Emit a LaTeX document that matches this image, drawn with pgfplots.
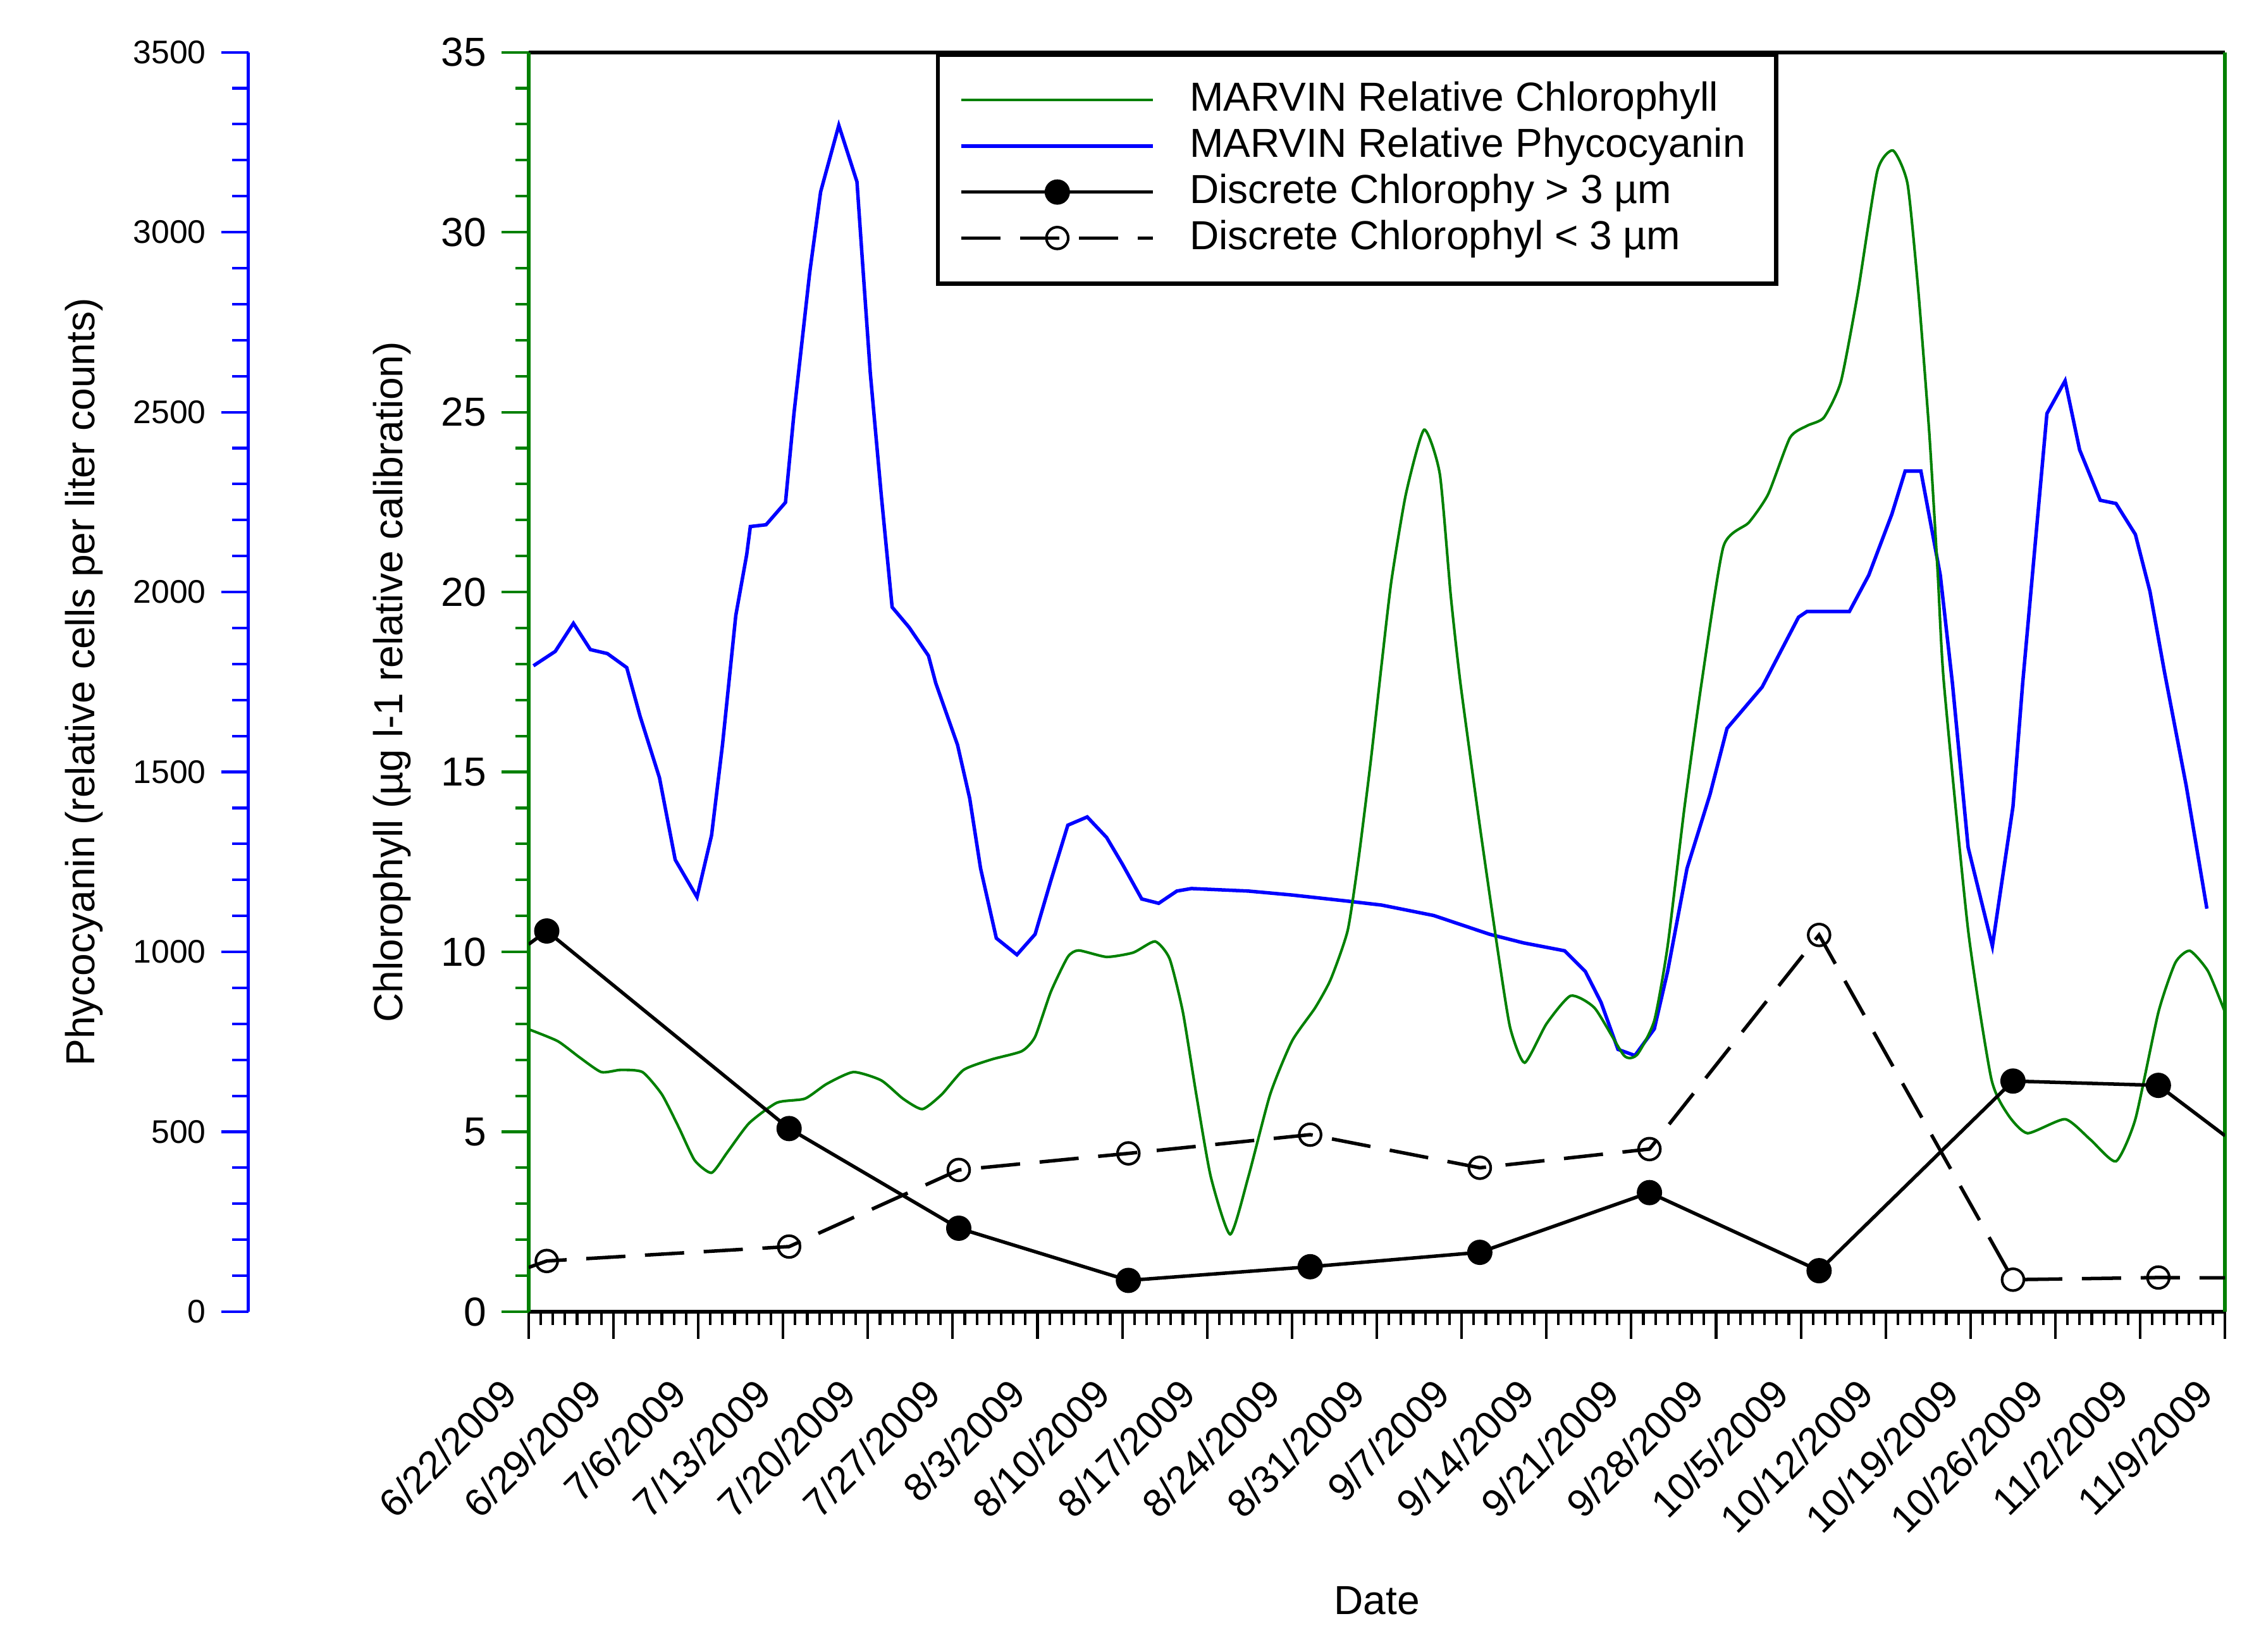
\documentclass[border=0pt]{standalone}
\usepackage{fontspec}
\setmainfont{Liberation Sans}
\usepackage{pgfplots}
\pgfplotsset{compat=1.18}
\definecolor{mgreen}{RGB}{0,128,0}
\definecolor{mblue}{RGB}{0,0,255}
\begin{document}
\begin{tikzpicture}
\useasboundingbox (-121.3pt,-78pt) rectangle (398.7pt,301pt);
% ---------------- Phycocyanin axis (left, blue) ----------------
\begin{axis}[
  scale only axis, width=453.6pt, height=289pt, at={(-64.3pt,0pt)}, anchor=south west,
  xmin=-23.124, xmax=140, ymin=0, ymax=3500,
  axis x line=none, axis y line*=left,
  y axis line style={mblue, line width=0.8pt},
  ytick={0,500,...,3500}, minor y tick num=4,
  tick align=outside, major tick length=6.2pt, minor tick length=3.7pt,
  ytick style={mblue, line width=0.6pt},
  /pgf/number format/assume math mode=true,
  /pgf/number format/1000 sep={},
  yticklabel style={font=\fontsize{7.5}{9}\selectfont, text=black},
  ylabel={Phycocyanin (relative cells per liter counts)},
  every axis y label/.style={at={(axis description cs:0,0.5)}, xshift=-37.7pt, rotate=90, anchor=center, font=\fontsize{9.3}{11}\selectfont},
]
\addplot[mblue, line width=0.8pt] coordinates {
(0.4,1795) (2.2,1835) (3.7,1913) (5.1,1840) (6.5,1829) (8.1,1790) (9.2,1655)
(10.8,1484) (12.1,1256) (13.9,1152) (15.1,1324) (16.0,1575) (17.1,1935) (18.0,2104)
(18.3,2182) (19.6,2187) (21.2,2249) (21.9,2496) (23.2,2888) (24.1,3112) (25.6,3297)
(27.1,3140) (27.5,2944) (28.2,2608) (29.1,2271) (30.0,1958) (31.4,1902) (33.0,1823)
(33.6,1747) (35.4,1575) (36.4,1427) (37.3,1232) (38.6,1038) (40.3,992) (41.8,1049)
(43.1,1198) (44.5,1352) (46.1,1375) (47.7,1318) (49.0,1244) (50.6,1147) (52.0,1135)
(53.5,1169) (54.7,1176) (59.4,1169) (63.0,1158) (67.6,1141) (70.4,1130) (74.7,1101)
(79.3,1049) (82.1,1025) (85.5,1003) (87.2,946) (88.5,860) (89.9,729) (91.3,712)
(92.9,786) (94.0,946) (95.6,1232) (97.5,1438) (98.9,1621) (101.8,1736) (104.8,1930)
(105.5,1946) (109.0,1946) (110.6,2047) (112.5,2216) (113.6,2336) (114.9,2336)
(116.5,2047) (117.5,1747) (118.8,1290) (120.8,1016) (122.5,1404) (123.3,1747)
(125.3,2496) (126.8,2587) (128.0,2395) (129.7,2255) (131.0,2246) (132.6,2160)
(133.8,2002) (135.0,1778) (136.8,1461) (138.5,1120)
};
\end{axis}
% ---------------- Chlorophyll axis (main) ----------------
\begin{axis}[
  scale only axis, width=389.3pt, height=289pt, at={(0pt,0pt)}, anchor=south west,
  xmin=0, xmax=140, ymin=0, ymax=35,
  separate axis lines,
  x axis line style={black, line width=0.9pt},
  y axis line style={mgreen, line width=0.8pt},
  xtick={0,7,...,140}, minor x tick num=6,
  ytick={0,5,...,35}, minor y tick num=4,
  xtick pos=left, ytick pos=left,
  tick align=outside, major tick length=6.2pt, minor tick length=3pt,
  xtick style={black, line width=0.6pt},
  ytick style={mgreen, line width=0.6pt},
  /pgf/number format/assume math mode=true,
  xticklabels={6/22/2009,6/29/2009,7/6/2009,7/13/2009,7/20/2009,7/27/2009,8/3/2009,8/10/2009,8/17/2009,8/24/2009,8/31/2009,9/7/2009,9/14/2009,9/21/2009,9/28/2009,10/5/2009,10/12/2009,10/19/2009,10/26/2009,11/2/2009,11/9/2009},
  xticklabel style={xshift=-2pt, yshift=-8.5pt, rotate=45, anchor=east, font=\fontsize{9}{10}\selectfont},
  yticklabel style={font=\fontsize{9.3}{11}\selectfont},
  xlabel={Date},
  every axis x label/.style={at={(axis description cs:0.5,0)}, yshift=-66.3pt, anchor=center, font=\fontsize{9.3}{11}\selectfont},
  ylabel={Chlorophyll (µg l-1 relative calibration)},
  every axis y label/.style={at={(axis description cs:0,0.5)}, xshift=-31.3pt, rotate=90, anchor=center, font=\fontsize{9.3}{11}\selectfont},
  legend image code/.code={\draw[#1, mark indices={2}] plot coordinates {(0pt,0pt) (22pt,0pt) (44pt,0pt)};},
  legend cell align=left,
  legend style={at={(0.2400,1)}, anchor=north west, draw=black, line width=1pt, fill=white,
    inner xsep=5pt, inner ysep=5.2pt, column sep=6pt,
    font=\fontsize{9.3}{11}\selectfont,
    nodes={inner ysep=0.5pt, inner xsep=2pt, text height=7.35pt, text depth=2.2pt}},
]
\addplot[mgreen, line width=0.6pt, smooth, tension=0.35] coordinates {
(0,7.85) (2.4,7.52) (4.2,7.07) (6.0,6.66) (7.6,6.72) (9.4,6.66) (11.0,6.04) (12.4,5.12)
(13.7,4.21) (15.1,3.86) (16.4,4.43) (18.2,5.24) (20.5,5.81) (22.8,5.92) (24.6,6.33)
(26.8,6.66) (29.1,6.43) (30.9,5.92) (32.5,5.63) (34.1,6.04) (35.9,6.72) (38.2,7.01)
(40.7,7.24) (41.8,7.64) (43.1,8.89) (44.5,9.86) (45.4,10.04) (47.7,9.86) (49.9,9.98)
(51.7,10.29) (52.9,9.81) (54.0,8.32) (55.1,6.04) (56.3,3.75) (57.9,2.15) (59.4,3.75)
(61.2,6.04) (63.0,7.52) (64.9,8.44) (66.2,9.24) (67.6,10.6) (68.5,12.6) (69.5,15.3)
(70.4,18.0) (71.2,20.3) (72.4,22.72) (73.9,24.51) (75.2,23.28) (76.1,19.91) (76.9,17.47)
(78.5,13.5) (80.0,10.0) (81.0,7.9) (82.2,6.92) (84.0,8.0) (86.0,8.78) (88.0,8.43)
(90.4,7.12) (91.5,7.15) (92.9,8.09) (94.0,10.16) (95.4,14.04) (96.8,17.47) (98.6,21.26)
(100.7,21.93) (102.3,22.72) (104.1,24.29) (105.5,24.62) (106.9,24.85) (108.3,25.85)
(109.7,28.32) (111.3,31.69) (112.6,32.27) (113.8,31.34) (114.7,28.32) (115.6,24.39)
(116.3,20.47) (116.8,17.47) (118.8,10.6) (120.7,6.49) (122.1,5.47) (123.7,4.96)
(126.8,5.35) (128.9,4.78) (131.0,4.18) (132.6,5.35) (134.5,8.32) (135.9,9.7)
(137.1,10.03) (138.6,9.46) (140,8.32)
};
\addlegendentry{MARVIN Relative Chlorophyll}
\addlegendimage{mblue, line width=0.8pt}
\addlegendentry{MARVIN Relative Phycocyanin}
\addplot[black, line width=0.8pt, mark=*, mark size=2.5pt, mark options={solid, fill=black},
  mark indices={2,3,4,5,6,7,8,9,10,11}] coordinates {
(0,10.21) (1.5,10.58) (21.5,5.09) (35.5,2.32) (49.5,0.87) (64.5,1.25) (78.5,1.65)
(92.5,3.31) (106.5,1.14) (122.5,6.41) (134.5,6.29) (140,4.89)
};
\addlegendentry{Discrete Chlorophy > 3 µm}
\addplot[black, line width=0.8pt, dash pattern=on 9pt off 4.5pt, mark=o, mark size=2.5pt,
  mark options={solid, fill=white, line width=0.6pt},
  mark indices={2,3,4,5,6,7,8,9,10,11}] coordinates {
(0,1.23) (1.5,1.41) (21.5,1.81) (35.5,3.94) (49.5,4.40) (64.5,4.92) (78.5,4.0)
(92.5,4.52) (106.5,10.47) (122.5,0.89) (134.5,0.95) (140,0.94)
};
\addlegendentry{Discrete Chlorophyl < 3 µm}
\end{axis}
\end{tikzpicture}
\end{document}
